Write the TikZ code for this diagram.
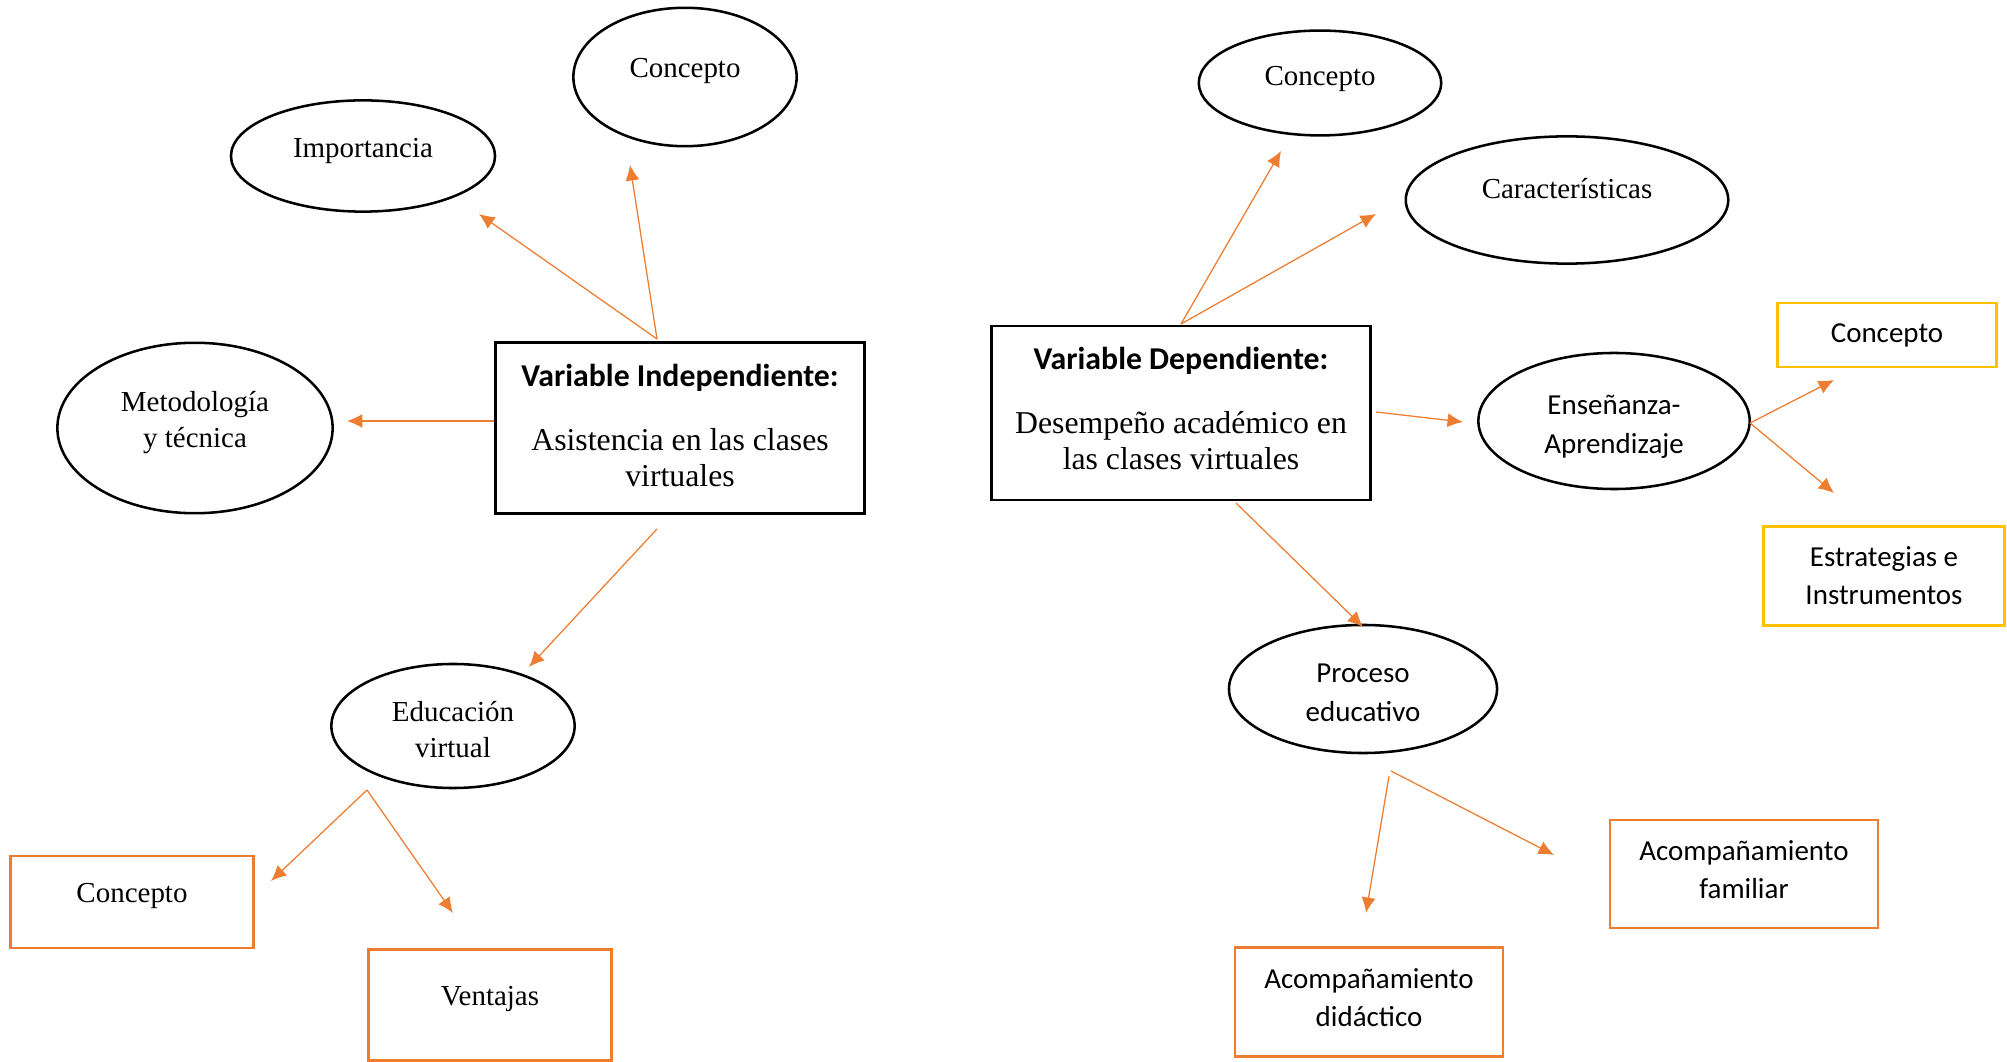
\documentclass[tikz,border=0pt]{standalone}
\usepackage{fontspec}
\setmainfont{Liberation Serif}
\setsansfont{Carlito}
\usetikzlibrary{shapes,arrows.meta}
\definecolor{accent}{HTML}{ED7D31}
\definecolor{gold}{HTML}{FFC000}
\tikzset{
 oval/.style={ellipse, draw, line width=0.9pt, inner sep=0pt, align=center,
   font=\fontsize{10.3}{12.8}\selectfont},
 varbox/.style={rectangle, draw, line width=0.9pt, inner sep=0pt, align=center,
   font=\fontsize{11.3}{12.8}\selectfont},
 obox/.style={rectangle, draw=accent, line width=0.9pt, inner sep=0pt, align=center,
   font=\fontsize{10.3}{12.8}\selectfont},
 ybox/.style={obox, draw=gold},
 sans/.style={font=\sffamily\fontsize{10.3}{13.6}\selectfont},
 link/.style={draw=accent, line width=0.45pt, -{Latex[length=5.5pt,width=5pt]}},
}

\begin{document}
\begin{tikzpicture}[x=0.0125cm, y=-0.0125cm]
 \useasboundingbox (0,0) rectangle (2007,1062);

 % variable independiente
 \node[varbox, minimum width=4.61cm, minimum height=2.14cm, text depth=2.1pt] (VI) at(680,428)
   {{\sffamily\bfseries Variable Independiente:}\\[10pt] Asistencia en las clases\\ virtuales};
 \node[oval, minimum width=3.30cm, minimum height=1.39cm, text depth=5.9pt] (imp) at(363,156) {Importancia};
 \node[oval, minimum width=2.79cm, minimum height=1.73cm, text depth=6.6pt] (conL) at(685,77) {Concepto};
 \node[oval, minimum width=3.44cm, minimum height=2.13cm, text depth=5.9pt] (met) at(195,428) {Metodología\\ y técnica};
 \node[oval, minimum width=3.04cm, minimum height=1.55cm] (edu) at(453,726) {\rule{0pt}{10pt}Educación\\ virtual};
 \node[obox, minimum width=3.04cm, minimum height=1.15cm, text depth=6.6pt] (conLb) at(132,902) {Concepto};
 \node[obox, minimum width=3.04cm, minimum height=1.39cm, text depth=6.6pt] (ven) at(490,1005) {Ventajas};

 % variable dependiente
 \node[varbox, minimum width=4.74cm, minimum height=2.18cm, text depth=3.0pt] (VD) at(1181,413)
   {{\sffamily\bfseries Variable Dependiente:}\\[10pt] Desempeño académico en\\ las clases virtuales};
 \node[oval, minimum width=3.03cm, minimum height=1.31cm, text depth=5.0pt] (conR) at(1320,83) {Concepto};
 \node[oval, minimum width=4.03cm, minimum height=1.59cm, text depth=7.9pt] (car) at(1567,200) {Características};
 \node[oval, sans, minimum width=3.39cm, minimum height=1.70cm] (ens) at(1614,421) {\rule{0pt}{11pt}Enseñanza-\\ Aprendizaje};
 \node[ybox, sans, minimum width=2.74cm, minimum height=0.80cm] (conRb) at(1887,335) {Concepto};
 \node[ybox, sans, minimum width=3.01cm, minimum height=1.24cm] (est) at(1884,576) {Estrategias e\\ Instrumentos};
 \node[oval, sans, minimum width=3.35cm, minimum height=1.60cm] (pro) at(1363,689) {\rule{0pt}{9.3pt}Proceso\\ educativo};
 \node[obox, sans, minimum width=3.35cm, minimum height=1.35cm, text depth=3.0pt] (fam) at(1744,874) {Acompañamiento\\ familiar};
 \node[obox, sans, minimum width=3.35cm, minimum height=1.36cm, text depth=3.0pt] (did) at(1369,1002) {Acompañamiento\\ didáctico};

 % arrow ends
 \coordinate (VItop) at(657,339);
 \coordinate (VIleft) at(494,421);
 \coordinate (VIbot) at(657,529);
 \coordinate (edubot) at(367,790);
 \coordinate (toconL) at(630,165);
 \coordinate (toimp) at(479,214);
 \coordinate (tomet) at(347,421);
 \coordinate (toedu) at(529,667);
 \coordinate (toconLb) at(271,881);
 \coordinate (toven) at(453,913);

 \coordinate (VDtop) at(1181,324);
 \coordinate (VDright) at(1376,412);
 \coordinate (VDbot) at(1236,503);
 \coordinate (ensright) at(1750,423);
 \coordinate (probotA) at(1389,776);
 \coordinate (probotB) at(1391,771);
 \coordinate (toconR) at(1281,151);
 \coordinate (tocar) at(1376,214);
 \coordinate (toens) at(1463,422);
 \coordinate (toconRb) at(1834,380);
 \coordinate (toest) at(1834,493);
 \coordinate (topro) at(1363,627);
 \coordinate (todid) at(1366,913);
 \coordinate (tofam) at(1554,855);

 \draw[link] (VItop) -- (toconL);
 \draw[link] (VItop) -- (toimp);
 \draw[link] (VIleft) -- (tomet);
 \draw[link] (VIbot) -- (toedu);
 \draw[link] (edubot) -- (toconLb);
 \draw[link] (edubot) -- (toven);

 \draw[link] (VDtop) -- (toconR);
 \draw[link] (VDtop) -- (tocar);
 \draw[link] (VDright) -- (toens);
 \draw[link] (ensright) -- (toconRb);
 \draw[link] (ensright) -- (toest);
 \draw[link] (VDbot) -- (topro);
 \draw[link] (probotA) -- (todid);
 \draw[link] (probotB) -- (tofam);

\end{tikzpicture}
\end{document}
